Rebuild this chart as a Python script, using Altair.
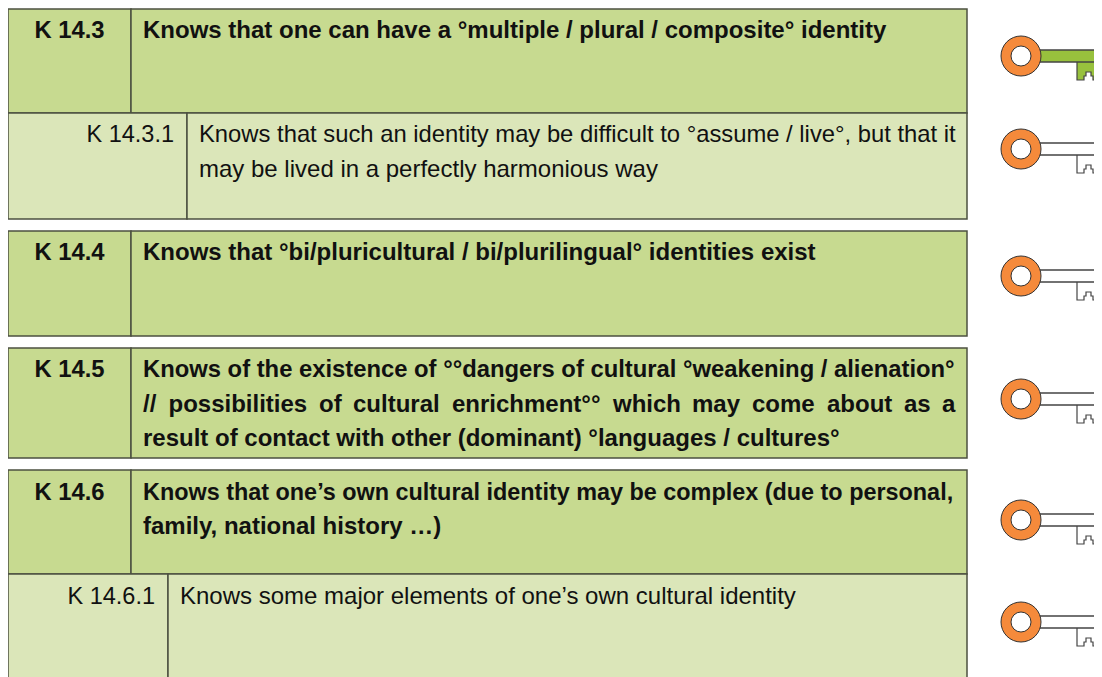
import altair as alt
import pandas as pd

FONT = "Liberation Sans"
XD = [8, 1094]
YD = [8, 677]

# table cells: x, x2, y, y2, level
cell_x = [8, 131, 8, 187, 8, 131, 8, 131, 8, 131, 8, 168]
cell_x2 = [131, 967, 187, 967, 131, 967, 131, 967, 131, 967, 168, 967]
cell_y = [9, 9, 113, 113, 231, 231, 348, 348, 470, 470, 574, 574]
cell_y2 = [113, 113, 219, 219, 336, 336, 458, 458, 574, 574, 690, 690]
cell_level = ["h", "h", "s", "s", "h", "h", "h", "h", "h", "h", "s", "s"]

# bold text
bold_text = [
    "Knows that one can have a °multiple / plural / composite° identity",
    "Knows that °bi/pluricultural / bi/plurilingual° identities exist",
    "result of contact with other (dominant) °languages / cultures°",
    "family, national history …)",
]
bold_x = [143, 143, 143, 143]
bold_y = [38, 260, 446, 534]

# K 14.5 first line, tighter
bold_b_text = ["Knows of the existence of °°dangers of cultural °weakening / alienation°"]
bold_b_x = [143]
bold_b_y = [376.5]

# K 14.5 second line, justified word by word
just_text = ["//", "possibilities", "of", "cultural", "enrichment°°", "which", "may", "come", "about", "as", "a"]
just_x = [143, 168.5, 319, 353, 452, 613, 692, 752, 827, 904, 942]
just_y = [411.5] * 11

# K 14.6 first line, tightest
bold_c_text = ["Knows that one’s own cultural identity may be complex (due to personal,"]
bold_c_x = [143]
bold_c_y = [500]

code_text = ["K 14.3", "K 14.4", "K 14.5", "K 14.6"]
code_x = [69.5, 69.5, 69.5, 69.5]
code_y = [38, 260, 376.5, 500]

sub_code_text = ["K 14.3.1", "K 14.6.1"]
sub_code_x = [174, 155]
sub_code_y = [142, 604]

body_text = [
    "may be lived in a perfectly harmonious way",
    "Knows some major elements of one’s own cultural identity",
]
body_x = [199, 180]
body_y = [177, 604]

body_b_text = ["Knows that such an identity may be difficult to °assume / live°, but that it"]
body_b_x = [199]
body_b_y = [142]

# keys: ring centre y and whether highlighted
key_cy = [56, 149, 276, 399, 520, 622]
key_on = [True, False, False, False, False, False]
key_cx = 1021

cells = pd.DataFrame({"x": cell_x, "x2": cell_x2, "y": cell_y, "y2": cell_y2, "level": cell_level})
xs = alt.Scale(domain=XD, nice=False, zero=False)
ys = alt.Scale(domain=[YD[1], YD[0]], nice=False, zero=False)
X = alt.X("x:Q", scale=xs, axis=None)
Y = alt.Y("y:Q", scale=ys, axis=None)

cell_layer = alt.Chart(cells).mark_rect(stroke="#4c5040", strokeWidth=1.5).encode(
    x=X, x2="x2:Q", y=Y, y2="y2:Q",
    fill=alt.Fill("level:N", scale=alt.Scale(domain=["h", "s"], range=["#c7da90", "#dbe6b9"]), legend=None),
)

def text_layer(txt, x, y, align="left", weight="normal", size=24):
    df = pd.DataFrame({"t": txt, "x": x, "y": y})
    return alt.Chart(df).mark_text(
        font=FONT, fontSize=size, fontWeight=weight, align=align, baseline="alphabetic", color="#111111"
    ).encode(x=X, y=Y, text="t:N", detail="x:Q")

# key geometry, relative to ring centre
shaft = []
bit_rects = []
bit_lines = []
bit_dx = [56, 56, 63, 63, 65, 65, 70, 70, 72, 72, 79, 79]
bit_dy = [6, 24, 24, 20, 20, 16, 16, 20, 20, 24, 24, 6]
bit_fill_x = [56, 63, 65, 70, 72]
bit_fill_x2 = [63, 65, 70, 72, 79]
bit_fill_y2 = [24, 20, 16, 20, 24]
for i, (cy, on) in enumerate(zip(key_cy, key_on)):
    shaft.append({"x": key_cx + 18, "x2": 1110, "y": cy - 6, "y2": cy + 6, "f": "#98c13d" if on else "#ffffff"})
    for a, b, c in zip(bit_fill_x, bit_fill_x2, bit_fill_y2):
        bit_rects.append({"x": key_cx + a, "x2": key_cx + b, "y": cy + 6, "y2": cy + c, "f": "#98c13d" if on else "#ffffff"})
    for j, (dx, dy) in enumerate(zip(bit_dx, bit_dy)):
        bit_lines.append({"x": key_cx + dx, "y": cy + dy, "k": i, "o": j})

rings = pd.DataFrame({"x": [key_cx] * len(key_cy), "y": key_cy})

bit_fill_layer = alt.Chart(pd.DataFrame(bit_rects)).mark_rect(strokeWidth=0, clip=True).encode(
    x=X, x2="x2:Q", y=Y, y2="y2:Q", fill=alt.Fill("f:N", scale=None))
bit_line_layer = alt.Chart(pd.DataFrame(bit_lines)).mark_line(color="#444444", strokeWidth=1.2, interpolate="linear", clip=True).encode(
    x=X, y=Y, detail="k:N", order="o:Q")
shaft_layer = alt.Chart(pd.DataFrame(shaft)).mark_rect(stroke="#444444", strokeWidth=1.5, clip=True).encode(
    x=X, x2="x2:Q", y=Y, y2="y2:Q", fill=alt.Fill("f:N", scale=None))
ring_outer = alt.Chart(rings).mark_point(shape="circle", filled=True, fill="#f58a3b", stroke="#333333", strokeWidth=1, size=1600, opacity=1).encode(x=X, y=Y)
ring_inner = alt.Chart(rings).mark_point(shape="circle", filled=True, fill="#ffffff", stroke="#333333", strokeWidth=1, size=400, opacity=1).encode(x=X, y=Y)

chart = alt.layer(
    cell_layer,
    text_layer(bold_text, bold_x, bold_y, weight="bold"),
    text_layer(bold_b_text, bold_b_x, bold_b_y, weight="bold", size=23.8),
    text_layer(just_text, just_x, just_y, weight="bold"),
    text_layer(bold_c_text, bold_c_x, bold_c_y, weight="bold", size=23.4),
    text_layer(code_text, code_x, code_y, align="center", weight="bold", size=23.8),
    text_layer(sub_code_text, sub_code_x, sub_code_y, align="right", size=23.5),
    text_layer(body_text, body_x, body_y),
    text_layer(body_b_text, body_b_x, body_b_y, size=23.8),
    bit_fill_layer, bit_line_layer, shaft_layer, ring_outer, ring_inner,
).properties(
    width=XD[1] - XD[0], height=YD[1] - YD[0], padding=0,
    autosize=alt.AutoSizeParams(type="none"),
).configure_view(stroke=None)

chart.save("out.html", embed_options={"renderer": "svg", "actions": False})
